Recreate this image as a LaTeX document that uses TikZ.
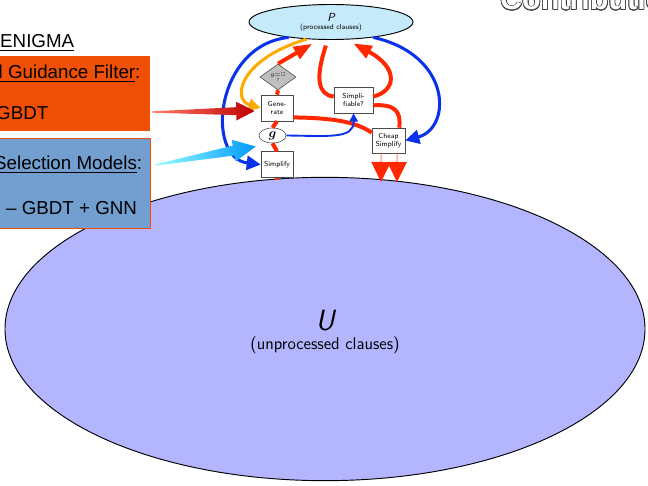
\documentclass[tikz,border=0pt]{standalone}
\usepackage{fontspec}
\usepackage{amsmath}
\usepackage{amssymb}
\usepackage{contour}
\usetikzlibrary{arrows.meta,shapes.geometric,calc}
\newfontfamily\arialfont{Liberation Sans}
\contourlength{0.6pt}
\definecolor{uviolet}{RGB}{179,181,255}
\definecolor{pcyan}{RGB}{197,234,250}
\definecolor{flowred}{RGB}{255,40,0}
\definecolor{flowblue}{RGB}{10,50,235}
\definecolor{floworange}{RGB}{255,170,0}
\definecolor{filterorange}{RGB}{240,80,5}
\definecolor{selblue}{RGB}{114,159,207}
\tikzset{
  stepbox/.style={draw=black!70, fill=white, line width=0.5pt, minimum width=0.96cm,
                  minimum height=0.78cm, inner sep=1pt, align=center,
                  font=\sffamily\fontsize{6.2}{6.6}\selectfont},
  decision/.style={diamond, draw=black!70, fill=black!25, line width=0.5pt,
                   minimum width=1.08cm, minimum height=0.78cm, inner sep=0pt,
                   align=center, font=\sffamily\fontsize{3.8}{4.2}\selectfont},
  clauses/.style={ellipse, draw=black, line width=0.8pt, align=center, inner sep=0pt},
  txt/.style={font=\arialfont\fontsize{16}{19}\selectfont, inner sep=0pt},
  panel/.style={minimum width=4.8cm, inner sep=0pt},
  redflow/.style={draw=flowred, line width=3.4pt},
  redup/.style={redflow, -{Triangle[length=0.55cm,width=0.4cm]}, shorten >=0.24cm},
  reddown/.style={draw=flowred!60, line width=0.8pt,
                  -{Triangle[length=0.6cm,width=0.58cm,color=flowred]}},
  blueflow/.style={draw=flowblue, line width=2.6pt, -{Triangle[length=0.42cm,width=0.42cm]}},
  bluethin/.style={draw=flowblue, line width=1.6pt, -{Triangle[length=0.25cm,width=0.25cm]}},
  orangeflow/.style={draw=floworange, line width=2.6pt, -{Triangle[length=0.36cm,width=0.36cm]}},
}

\begin{document}
\begin{tikzpicture}[x=0.03cm, y=-0.03cm]
\useasboundingbox (0,0) rectangle (648,486);

% clause sets
\node[clauses, fill=uviolet, minimum width=19.2cm, minimum height=9.1cm] (U) at (325,329) {};
\node[font=\sffamily\fontsize{14.5}{17}\selectfont, align=center] (ulabel) at (325,332)
  {{\fontsize{25}{25}\selectfont\itshape U}\\(unprocessed clauses)};
\node[clauses, fill=pcyan, minimum width=4.92cm, minimum height=1.05cm,
      font=\sffamily\fontsize{6.2}{6.6}\selectfont] (P) at (331,22)
  {{\fontsize{10}{10}\selectfont\itshape P}\\(processed clauses)};

% left panels
\node[panel, fill=filterorange, minimum height=2.25cm] (filter) at (70,93.5) {};
\node[panel, fill=selblue, draw=filterorange, line width=0.8pt, minimum height=2.7cm] (sel) at (70,183) {};
\node[txt, anchor=base west] (enigma) at (0,48) {\underline{ENIGMA}};
\node[txt, anchor=base west] (filtertitle) at (-1.5,79) {\underline{l Guidance Filter}:};
\node[txt, anchor=base west] (filtermodel) at (-4,120) {GBDT};
\node[txt, anchor=base west] (seltitle) at (-6,170) {\underline{Selection Models}:};
\node[txt, anchor=base west] (selmodel) at (6,215) {– GBDT + GNN};
\node[anchor=base west, inner sep=0pt, font=\arialfont\bfseries\fontsize{26}{30}\selectfont]
  (contrib) at (500,10) {{\color{white}\contour{black!75}{Contributions}}};

% loop nodes
\node[decision] (test) at (278,77) {$g{=}\square$\\?};
\node[stepbox] (gen) at (277,108) {Gene-\\rate};
\node[ellipse, draw=black!70, fill=white, line width=0.5pt, minimum width=0.81cm,
      minimum height=0.45cm, inner sep=0pt, font=\fontsize{11}{11}\selectfont] (g) at (272.5,135.5) {$\boldsymbol{g}$};
\node[stepbox] (simp) at (277,164.5) {Simplify};
\node[stepbox, minimum width=1.17cm] (simpq) at (353.5,100) {Simpli-\\fiable?};
\node[stepbox, minimum width=0.99cm, minimum height=0.75cm] (cheap) at (388.5,140.5) {Cheap\\Simplify};
\coordinate (uin) at (277,180);
\coordinate (u1) at (381,182);
\coordinate (u2) at (397,182);

% red flow
\draw[redflow] (gen.north) -- (test.south);
\draw[redflow] (g.north) -- (gen.south);
\draw[redflow] (simp.north) -- (g.south);
\draw[redflow] (simp.south) -- (uin);
\draw[redup] (test.north) -- (P.236);
\draw[redflow] (gen.-30) .. controls (330,118) and (355,121) .. (cheap.155);
\draw[redflow, shorten <=0.18cm] (P.260) .. controls (315,78) and (318,95) .. (simpq.170);
\draw[redup] (simpq.10) .. controls (396,91) and (399,68) .. (P.-49);
\draw[redflow] (simpq.-15) .. controls (396,104) and (401,112) .. (cheap.50);
\draw[reddown] (cheap.-120) -- (u1);
\draw[reddown] (cheap.-56) -- (u2);

% blue and orange flow
\draw[blueflow] (P.200) .. controls (215,45) and (205,158) .. (simp.west);
\draw[orangeflow] (P.215) .. controls (238,60) and (232,100) .. (gen.west);
\draw[bluethin] (g.east) .. controls (330,136) and (354,139) .. (simpq.south);
\draw[blueflow] (P.-20) .. controls (452,55) and (452,128) .. (cheap.east);

% guidance arrows
\coordinate (rtail) at ($(filter.east)+(2,18.5)$);
\coordinate (rtip) at ($(gen.west)+(-6,3)$);
\shade[left color=flowred!60!white, right color=red!75!black]
  ($(rtail)!0.02cm!90:(rtip)$) -- ($(rtail)!0.82!(rtip)!0.12cm!90:(rtip)$)
  -- ($(rtail)!0.82!(rtip)!0.28cm!90:(rtip)$) -- (rtip)
  -- ($(rtail)!0.82!(rtip)!0.28cm!-90:(rtip)$) -- ($(rtail)!0.82!(rtip)!0.12cm!-90:(rtip)$)
  -- ($(rtail)!0.02cm!-90:(rtip)$) -- cycle;
\coordinate (btail) at ($(sel.east)+(5,-18)$);
\coordinate (btip) at ($(g.west)+(-3,11)$);
\shade[left color=cyan!40!white, right color=blue!40!cyan]
  ($(btail)!0.02cm!90:(btip)$) -- ($(btail)!0.78!(btip)!0.15cm!90:(btip)$)
  -- ($(btail)!0.78!(btip)!0.33cm!90:(btip)$) -- (btip)
  -- ($(btail)!0.78!(btip)!0.33cm!-90:(btip)$) -- ($(btail)!0.78!(btip)!0.15cm!-90:(btip)$)
  -- ($(btail)!0.02cm!-90:(btip)$) -- cycle;
\end{tikzpicture}
\end{document}
